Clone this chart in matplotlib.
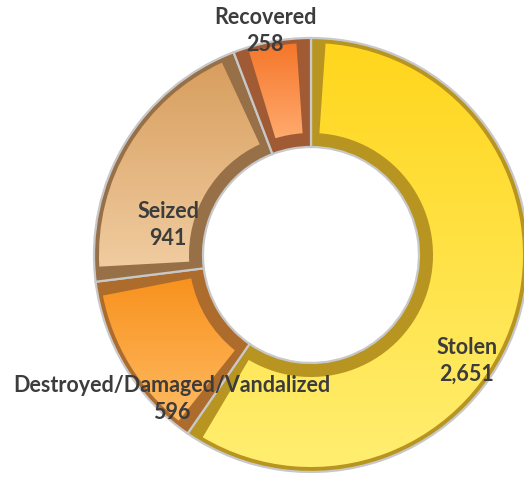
import numpy as np
import matplotlib.pyplot as plt
from matplotlib.patches import Wedge
from matplotlib.colors import LinearSegmentedColormap

categories = ['Stolen', 'Destroyed/Damaged/Vandalized', 'Seized', 'Recovered']
counts = [2651, 596, 941, 258]
count_labels = ['2,651', '596', '941', '258']

# colours: face gradient top -> bottom, and the darker bevel
face_top = ['#FFD61C', '#F8921E', '#D89E5E', '#F5762A']
face_bottom = ['#FFEE70', '#FFBA62', '#F0CCA0', '#FFAA6E']
bevel = ['#B89520', '#AD6B2C', '#977047', '#A05B35']
# label centres, in pixels from the top-left corner
label_xy = [(467, 361), (172, 399), (168, 225), (265, 31)]

W, H = 524, 480
fig = plt.figure(figsize=(W / 100, H / 100), dpi=100)
ax = fig.add_axes([0, 0, 1, 1])

cx, cy, R, r = 311, 225, 217, 108
wedges, _ = ax.pie(counts, startangle=90, counterclock=False, center=(cx, cy),
                   radius=R, explode=[0.012] * 4, colors=bevel, frame=True,
                   wedgeprops=dict(width=R - r, edgecolor='#C8C8C8', linewidth=1.6))

grad = np.linspace(0, 1, 256)[:, None]
for i, w in enumerate(wedges):
    t1, t2 = w.theta1, w.theta2
    dt = np.degrees(11 / 160)
    outer = w.r - 5
    inner = w.r - w.width + 14
    face = Wedge(w.center, outer, t1 + dt, t2 - dt, width=outer - inner,
                 facecolor='none', edgecolor='none')
    ax.add_patch(face)
    ext = face.get_path().get_extents()
    cmap = LinearSegmentedColormap.from_list('f%d' % i, [face_top[i], face_bottom[i]])
    im = ax.imshow(grad, cmap=cmap, aspect='auto', origin='upper',
                   extent=(ext.x0, ext.x1, ext.y0, ext.y1), zorder=2)
    im.set_clip_path(face)

for name, val, (x, y) in zip(categories, count_labels, label_xy):
    ax.text(x, H - y, name + '\n' + val, ha='center', va='center',
            fontsize=15.5, fontweight='bold', family=['Lato', 'DejaVu Sans'],
            color='#3C3C3C', linespacing=1.3, zorder=5)

ax.set_xlim(0, W)
ax.set_ylim(0, H)
ax.set_aspect('equal')
ax.axis('off')

fig.savefig('out.png', dpi=100)
